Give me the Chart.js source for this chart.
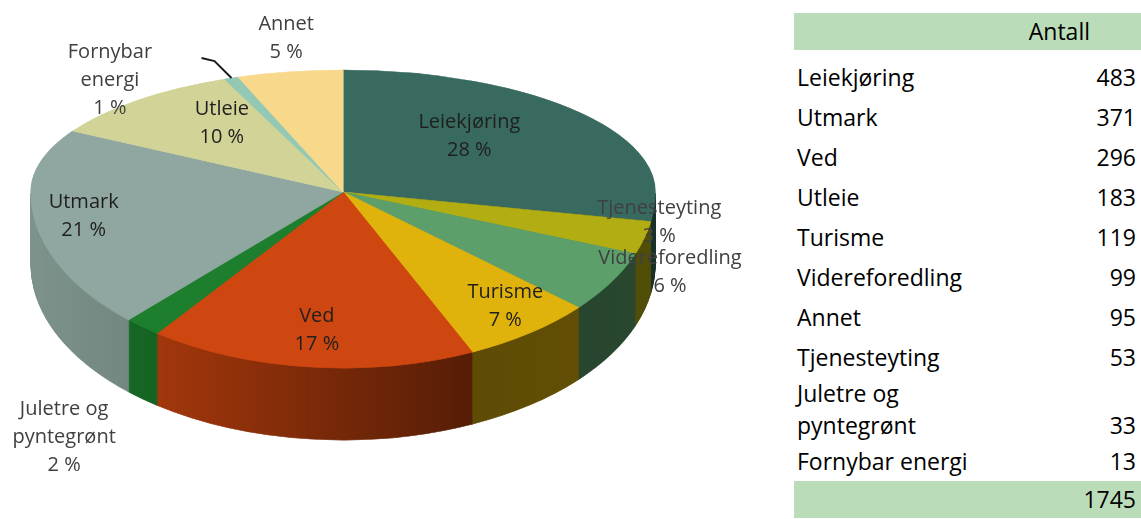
<!DOCTYPE html>
<html>
<head>
<meta charset="utf-8">
<script src="https://cdn.jsdelivr.net/npm/chart.js@4.4.1/dist/chart.umd.min.js"></script>
<style>
  body { margin: 0; background: #fff; width: 1141px; height: 519px; overflow: hidden; position: relative; }
  #pieBox { position: absolute; left: 0; top: 0; width: 780px; height: 519px; }
  #countTable { position: absolute; left: 794px; top: 13px; width: 347px; font-family: 'Open Sans', sans-serif; font-size: 23px; color: #000; }
  .head, .foot { background: #bbdcb9; height: 37px; line-height: 37px; text-align: right; }
  .head { padding-right: 51px; margin-bottom: 7px; }
  .foot { padding-right: 5px; }
  .row { display: flex; align-items: center; min-height: 40px; line-height: 32px; padding: 0 5px 0 3px; }
  .row .name { width: 190px; }
  .row .val { flex: 1; text-align: right; }
</style>
</head>
<body>
<div id="pieBox"><canvas id="pieChart"></canvas></div>
<div id="countTable"></div>
<script>
// categories in the order they go round the pie, clockwise from 12 o'clock
const categories = ['Leiekjøring', 'Tjenesteyting', 'Videreforedling', 'Turisme', 'Ved',
  'Juletre og pyntegrønt', 'Utmark', 'Utleie', 'Fornybar energi', 'Annet'];
const counts = [483, 53, 99, 119, 296, 33, 371, 183, 13, 95];
const tableHeader = 'Antall';

const sliceColors = ['#386a5f', '#b2ad12', '#5c9f6b', '#e0b30c', '#cf4710',
  '#1d7f2e', '#8fa7a0', '#d1d397', '#93c9b4', '#f8d88a'];
// radial fractions (x, y) for each label, relative to the ellipse
const labelSpots = [[0.53, 0.71], [1.05, 0.65], [1.22, 0.89], [0.87, 0.81], [0.79, 0.79],
  [1.39, 1.82], [0.84, 0.95], [0.59, 0.75], [2.09, 0.98], [1.07, 1.28]];

// ellipse the flat pie gets squeezed into, plus the wall height
const PIE_X = 343, PIE_Y = 192, RX = 312, RY_TOP = 122, RY_BOTTOM = 176, DEPTH = 72;
const LABEL_FONT = "20px 'Open Sans', sans-serif";
const LINE_H = 28;

const total = counts.reduce((s, v) => s + v, 0);

function wrapText(ctx, text, maxW) {
  const lines = [];
  let cur = '';
  text.split(' ').forEach(w => {
    const t = cur ? cur + ' ' + w : w;
    if (cur && ctx.measureText(t).width > maxW) { lines.push(cur); cur = w; } else cur = t;
  });
  lines.push(cur);
  return lines;
}

function spot(arc, fx, fy) {
  const mid = (arc.startAngle + arc.endAngle) / 2;
  const ux = Math.cos(mid), uy = Math.sin(mid);
  return { x: PIE_X + RX * fx * ux, y: PIE_Y + (uy < 0 ? RY_TOP : RY_BOTTOM) * fy * uy };
}

const pie3d = {
  id: 'pie3d',
  beforeDatasetsDraw(chart) {
    const ctx = chart.ctx;
    const arcs = chart.getDatasetMeta(0).data;
    const cx = arcs[0].x, cy = arcs[0].y, R = arcs[0].outerRadius;

    // upper and lower half use different vertical radii (fake perspective)
    function drawHalf(lower, dy) {
      ctx.save();
      ctx.translate(PIE_X, PIE_Y + dy);
      ctx.scale(RX / R, (lower ? RY_BOTTOM : RY_TOP) / R);
      ctx.translate(-cx, -cy);
      ctx.beginPath();
      if (lower) ctx.rect(cx - R - 4, cy, 2 * R + 8, R + 4);
      else ctx.rect(cx - R - 4, cy - R - 4, 2 * R + 8, R + 4);
      ctx.clip();
      arcs.forEach(a => a.draw(ctx));
      ctx.restore();
    }

    // side wall: stack the lower half downwards
    for (let d = DEPTH; d >= 1; d--) drawHalf(true, d);

    // darken the wall, more to the right
    ctx.save();
    ctx.globalCompositeOperation = 'source-atop';
    const g = ctx.createLinearGradient(PIE_X - RX, 0, PIE_X + RX, 0);
    g.addColorStop(0, 'rgba(0,0,0,0.12)');
    g.addColorStop(0.18, 'rgba(0,0,0,0.2)');
    g.addColorStop(0.7, 'rgba(0,0,0,0.58)');
    g.addColorStop(1, 'rgba(0,0,0,0.55)');
    ctx.fillStyle = g;
    ctx.fillRect(0, 0, chart.width, chart.height);
    ctx.restore();

    // top face
    drawHalf(false, 0);
    drawHalf(true, 0);
    return false;
  },
  afterDraw(chart) {
    const ctx = chart.ctx;
    const arcs = chart.getDatasetMeta(0).data;
    ctx.save();
    ctx.font = LABEL_FONT;
    ctx.textAlign = 'center';
    ctx.textBaseline = 'middle';
    arcs.forEach((arc, i) => {
      const [fx, fy] = labelSpots[i];
      const p = spot(arc, fx, fy);
      const pct = Math.round(counts[i] / total * 100) + ' %';
      const lines = wrapText(ctx, categories[i], 115).concat(pct);
      const inside = fx < 1 && fy < 1;
      ctx.fillStyle = inside ? '#1f1f1f' : '#404040';
      lines.forEach((t, k) => ctx.fillText(t, p.x, p.y - (lines.length - 1) * LINE_H / 2 + k * LINE_H));

      if (fx > 1.5) {
        // leader line for labels placed far out
        const r = spot(arc, 1, 1);
        ctx.strokeStyle = '#1a1a1a';
        ctx.lineWidth = 2;
        ctx.beginPath();
        ctx.moveTo(r.x, r.y);
        ctx.lineTo(r.x - 17, r.y - 17);
        ctx.lineTo(r.x - 30, r.y - 20);
        ctx.stroke();
      }
    });
    ctx.restore();
  }
};

new Chart(document.getElementById('pieChart').getContext('2d'), {
  type: 'pie',
  data: {
    labels: categories,
    datasets: [{
      data: counts,
      backgroundColor: sliceColors,
      borderColor: sliceColors,
      borderWidth: 1
    }]
  },
  options: {
    responsive: true,
    maintainAspectRatio: false,
    animation: false,
    events: [],
    layout: { padding: 0 },
    plugins: { legend: { display: false }, tooltip: { enabled: false } }
  },
  plugins: [pie3d]
});

// table on the right, largest first
function buildTable() {
  const box = document.getElementById('countTable');
  const head = document.createElement('div');
  head.className = 'head';
  head.textContent = tableHeader;
  box.appendChild(head);

  const order = categories.map((c, i) => i).sort((a, b) => counts[b] - counts[a]);
  order.forEach(i => {
    const row = document.createElement('div');
    row.className = 'row';
    const name = document.createElement('span');
    name.className = 'name';
    name.textContent = categories[i];
    const val = document.createElement('span');
    val.className = 'val';
    val.textContent = counts[i];
    row.appendChild(name);
    row.appendChild(val);
    box.appendChild(row);
    // wrapped names keep the number on the last line
    if (name.offsetHeight > 40) val.style.alignSelf = 'flex-end';
  });

  const foot = document.createElement('div');
  foot.className = 'foot';
  foot.textContent = total;
  box.appendChild(foot);
}

document.addEventListener('DOMContentLoaded', buildTable);
</script>
</body>
</html>
